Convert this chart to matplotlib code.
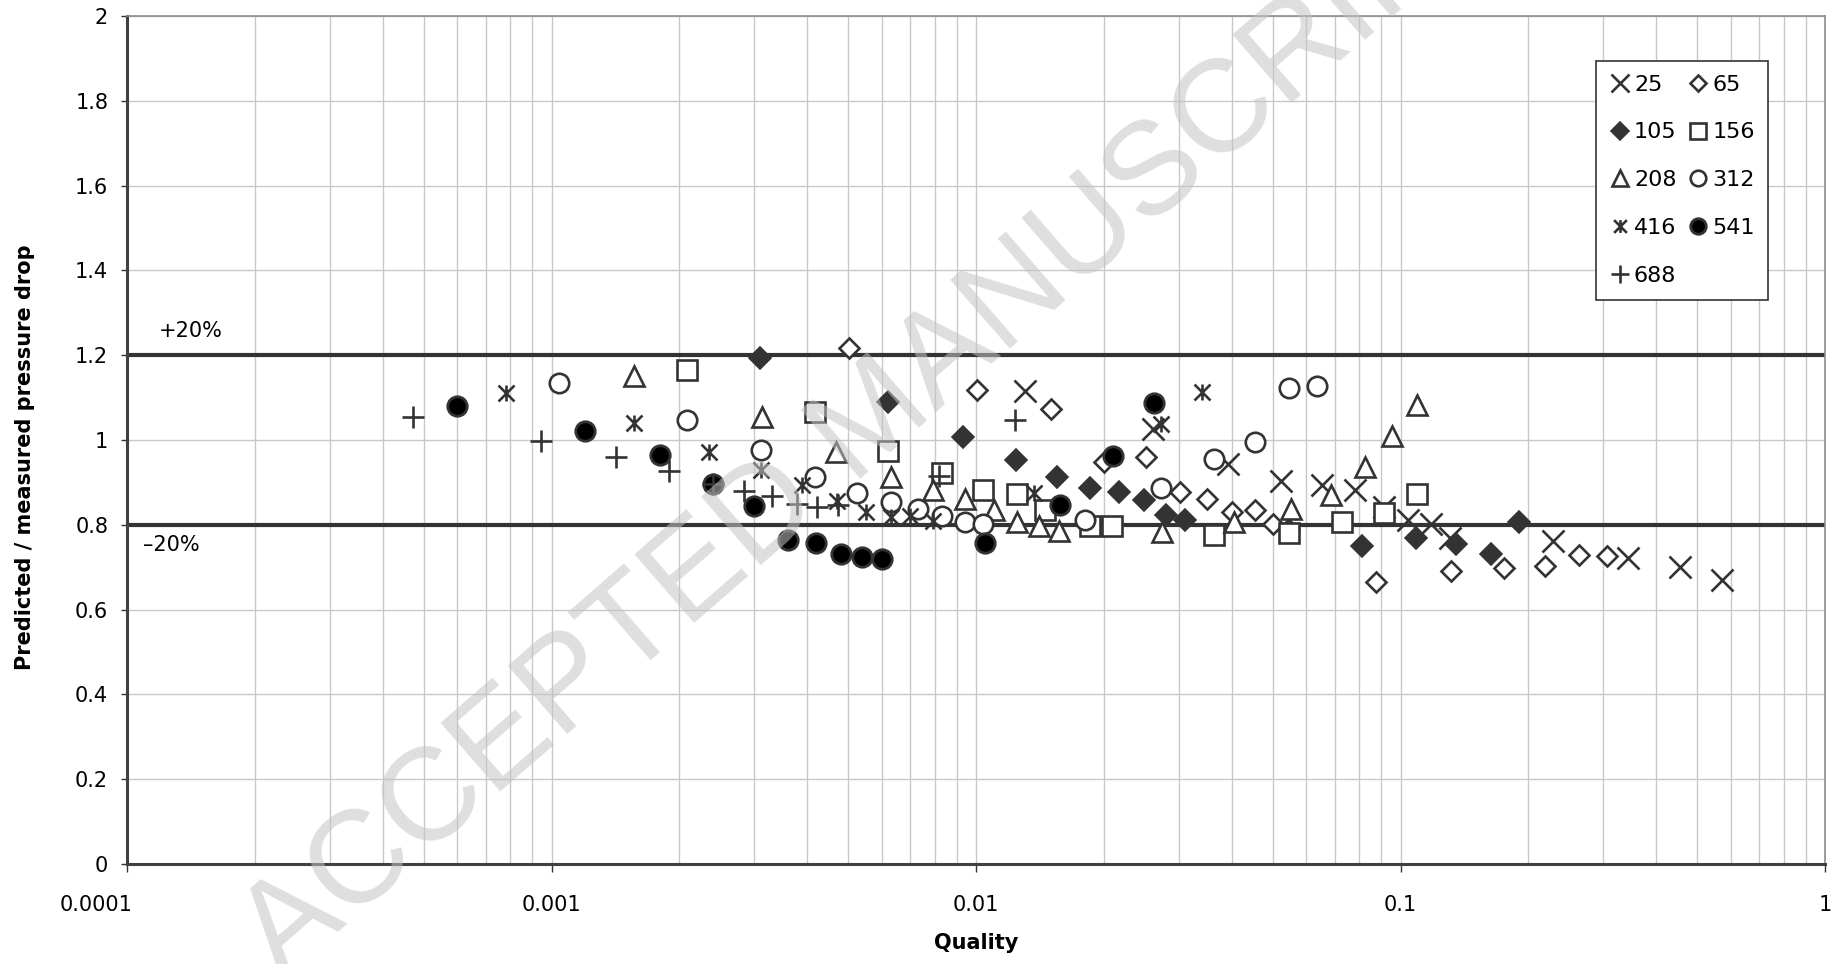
import matplotlib
matplotlib.use('Agg')
import matplotlib.pyplot as plt
from matplotlib.path import Path
from matplotlib.ticker import FixedLocator, NullFormatter, LogLocator

# ---------------- data ----------------
q_25 = [0.01303, 0.0261, 0.0392, 0.0522, 0.0655, 0.0782, 0.0915, 0.1042, 0.1179, 0.131, 0.2281, 0.3427, 0.456, 0.571]
r_25 = [1.116, 1.027, 0.944, 0.903, 0.894, 0.882, 0.843, 0.811, 0.801, 0.768, 0.762, 0.722, 0.700, 0.670]

q_65 = [0.005012, 0.01003, 0.01504, 0.0200, 0.0251, 0.0302, 0.0351, 0.0402, 0.0453, 0.0500, 0.0874, 0.1318, 0.1754, 0.2192, 0.2636, 0.3063]
r_65 = [1.216, 1.118, 1.073, 0.947, 0.960, 0.878, 0.862, 0.830, 0.835, 0.803, 0.666, 0.690, 0.697, 0.703, 0.729, 0.727]

q_105 = [0.003105, 0.0062, 0.00931, 0.0124, 0.0155, 0.0186, 0.0217, 0.0249, 0.028, 0.0311, 0.0546, 0.0813, 0.1086, 0.135, 0.1632, 0.1903]
r_105 = [1.193, 1.090, 1.008, 0.954, 0.913, 0.886, 0.877, 0.858, 0.824, 0.811, 0.788, 0.750, 0.770, 0.755, 0.730, 0.806]

q_156 = [0.002086, 0.004169, 0.0062, 0.0083, 0.0104, 0.0125, 0.0145, 0.0186, 0.0209, 0.0364, 0.0546, 0.073, 0.0913, 0.1096]
r_156 = [1.165, 1.065, 0.974, 0.921, 0.882, 0.872, 0.835, 0.798, 0.796, 0.775, 0.780, 0.806, 0.829, 0.872]

q_208 = [0.001567, 0.003134, 0.00469, 0.0063, 0.0079, 0.0094, 0.011, 0.0125, 0.0141, 0.0157, 0.0274, 0.0406, 0.0551, 0.0685, 0.0824, 0.0957, 0.1096]
r_208 = [1.151, 1.055, 0.971, 0.913, 0.882, 0.860, 0.834, 0.807, 0.796, 0.785, 0.784, 0.807, 0.837, 0.870, 0.937, 1.009, 1.083]

q_312 = [0.001043, 0.002086, 0.003122, 0.004169, 0.00525, 0.0063, 0.0073, 0.0083, 0.0094, 0.0104, 0.0181, 0.0273, 0.0364, 0.0454, 0.0546, 0.0637]
r_312 = [1.134, 1.046, 0.976, 0.912, 0.876, 0.853, 0.838, 0.821, 0.807, 0.803, 0.812, 0.886, 0.955, 0.996, 1.122, 1.127]

q_416 = [0.000782, 0.001567, 0.002354, 0.00312, 0.0039, 0.0047, 0.0055, 0.0063, 0.0070, 0.0079, 0.0137, 0.0273, 0.0341]
r_416 = [1.110, 1.039, 0.972, 0.930, 0.895, 0.856, 0.830, 0.818, 0.821, 0.808, 0.875, 1.038, 1.114]

q_541 = [0.0006, 0.0012, 0.0018, 0.0024, 0.003006, 0.0036, 0.0042, 0.00481, 0.00539, 0.00601, 0.0105, 0.0158, 0.0210, 0.0262]
r_541 = [1.081, 1.022, 0.965, 0.896, 0.845, 0.764, 0.758, 0.731, 0.723, 0.719, 0.757, 0.847, 0.962, 1.088]

q_688 = [0.000473, 0.000947, 0.001421, 0.001895, 0.0024, 0.002837, 0.003308, 0.00379, 0.00421, 0.00473, 0.0082, 0.01237]
r_688 = [1.055, 0.998, 0.959, 0.928, 0.897, 0.880, 0.868, 0.850, 0.843, 0.847, 0.915, 1.047]

series_labels = ['25', '65', '105', '156', '208', '312', '416', '541', '688']
band_levels = [1.2, 0.8]
band_texts = ['+20%', '\u201320%']
x_ticks = [0.0001, 0.001, 0.01, 0.1, 1]
x_ticklabels = ['0.0001', '0.001', '0.01', '0.1', '1']
y_ticks = [0, 0.2, 0.4, 0.6, 0.8, 1.0, 1.2, 1.4, 1.6, 1.8, 2.0]
y_ticklabels = ['0', '0.2', '0.4', '0.6', '0.8', '1', '1.2', '1.4', '1.6', '1.8', '2']

# ---------------- styling ----------------
plt.rcParams['font.family'] = ['DejaVu Sans']
FS = 15
EC = '#333333'

asterisk = Path([(-1, -1), (1, 1), (-1, 1), (1, -1), (0, -1), (0, 1)],
                [Path.MOVETO, Path.LINETO, Path.MOVETO, Path.LINETO, Path.MOVETO, Path.LINETO])

styles = [
    dict(marker='x', ms=16, mew=1.9, mec=EC, mfc='none'),
    dict(marker='D', ms=10.4, mew=1.9, mec=EC, mfc='white'),
    dict(marker='D', ms=11.5, mew=1.2, mec=EC, mfc=EC),
    dict(marker='s', ms=14.5, mew=1.9, mec=EC, mfc='white'),
    dict(marker='^', ms=15, mew=1.9, mec=EC, mfc='white'),
    dict(marker='o', ms=14, mew=1.9, mec=EC, mfc='white'),
    dict(marker=asterisk, ms=11.5, mew=1.9, mec=EC, mfc='none'),
    dict(marker='o', ms=14, mew=2.0, mec=EC, mfc='black'),
    dict(marker='+', ms=16.5, mew=1.9, mec=EC, mfc='none'),
]
data = [(q_25, r_25), (q_65, r_65), (q_105, r_105), (q_156, r_156), (q_208, r_208),
        (q_312, r_312), (q_416, r_416), (q_541, r_541), (q_688, r_688)]

fig = plt.figure(figsize=(18.38, 9.64), dpi=100)
ax = fig.add_axes([127 / 1838, 1 - 864 / 964, (1825 - 127) / 1838, (864 - 16) / 964])

ax.set_xscale('log')
ax.set_xlim(1e-4, 1)
ax.set_ylim(0, 2)

# grid and ticks
ax.xaxis.set_major_locator(FixedLocator(x_ticks))
ax.xaxis.set_minor_locator(LogLocator(base=10, subs=range(2, 10)))
ax.xaxis.set_minor_formatter(NullFormatter())
ax.set_xticklabels([''] + x_ticklabels[1:])
ax.yaxis.set_major_locator(FixedLocator(y_ticks))
ax.set_yticklabels(y_ticklabels)
ax.grid(True, which='major', axis='both', color='#c8c8c8', lw=1.0, zorder=0)
ax.grid(True, which='minor', axis='x', color='#c8c8c8', lw=1.0, zorder=0)
ax.set_axisbelow(True)

ax.tick_params(axis='x', which='major', direction='out', length=6, width=1, color=EC,
               labelsize=FS, pad=16)
ax.tick_params(axis='x', which='minor', length=0)
ax.tick_params(axis='y', which='major', direction='out', length=4.5, width=1, color=EC,
               labelsize=FS, pad=9)

# first x tick label sits left of the axis origin, as in the reference
ax.annotate(x_ticklabels[0], xy=(x_ticks[0], 0), xycoords=('data', 'axes fraction'),
            xytext=(4, -22), textcoords='offset points', ha='right', va='top', fontsize=FS)

for s in ['left', 'bottom']:
    ax.spines[s].set_color('#404040')
    ax.spines[s].set_linewidth(2.2)
for s in ['top', 'right']:
    ax.spines[s].set_color('#8c8c8c')
    ax.spines[s].set_linewidth(1.2)

# +/-20% lines
for lev in band_levels:
    ax.axhline(lev, color='#333333', lw=3.0, zorder=2)
ax.text(1.19e-4, 1.257, band_texts[0], fontsize=FS, ha='left', va='center')
ax.text(1.09e-4, 0.752, band_texts[1], fontsize=FS, ha='left', va='center')

handles = []
for (q, r), st, lab in zip(data, styles, series_labels):
    h, = ax.plot(q, r, ls='none', label=lab, zorder=3, **st)
    handles.append(h)

# legend row-wise order: 25 65 / 105 156 / 208 312 / 416 541 / 688
order = [0, 2, 4, 6, 8, 1, 3, 5, 7]
leg = ax.legend([handles[i] for i in order], [series_labels[i] for i in order],
                ncol=2, loc='upper left', bbox_to_anchor=(0.865, 0.947), borderaxespad=0,
                fontsize=FS + 1, markerscale=0.8, handlelength=0.9, handletextpad=0.2,
                columnspacing=0.5, labelspacing=1.25, borderpad=0.62, fancybox=False,
                framealpha=1, edgecolor='#333333')
leg.get_frame().set_linewidth(1.2)

ax.set_xlabel('Quality', fontsize=FS, fontweight='bold')
ax.xaxis.set_label_coords(0.5, -0.081)
ax.set_ylabel('Predicted / measured pressure drop', fontsize=FS, fontweight='bold')
ax.yaxis.set_label_coords(-0.054, 0.48)

# watermark
fig.text(0.4755, 0.563, 'ACCEPTED MANUSCRIPT', rotation=41, fontsize=95, color='#c4c4c4',
         alpha=0.55, ha='center', va='center', rotation_mode='anchor',
         family=['Liberation Sans', 'DejaVu Sans'])

fig.savefig('out.png', dpi=100)
